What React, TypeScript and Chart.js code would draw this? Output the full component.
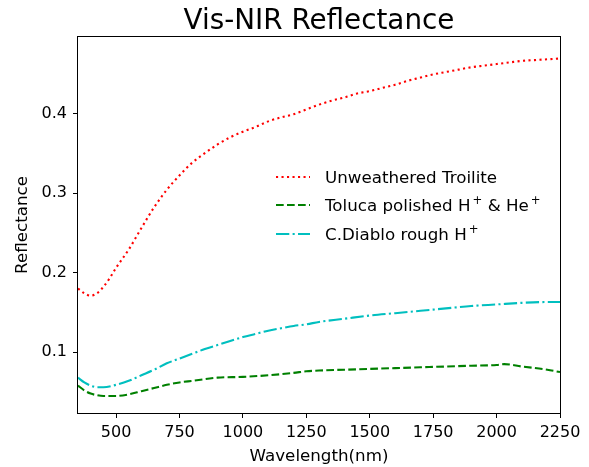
import React, { useEffect, useRef } from "react";
import { Chart, registerables } from "chart.js";

Chart.register(...registerables);

const chartTitle = "Vis-NIR Reflectance";
const xAxisLabel = "Wavelength(nm)";
const yAxisLabel = "Reflectance";
const xTicks = [500, 750, 1000, 1250, 1500, 1750, 2000, 2250];
const yTicks = [0.1, 0.2, 0.3, 0.4];

const troiliteWl = [350, 375, 400, 425, 450, 475, 500, 550, 600, 650, 700, 750, 800, 850, 900, 950, 1000, 1050, 1100, 1150, 1200, 1250, 1300, 1350, 1400, 1450, 1500, 1550, 1600, 1650, 1700, 1750, 1800, 1850, 1900, 1950, 2000, 2050, 2100, 2150, 2200, 2250];
const troiliteR = [0.180, 0.174, 0.171, 0.174, 0.182, 0.193, 0.206, 0.229, 0.256, 0.282, 0.304, 0.322, 0.338, 0.350, 0.361, 0.370, 0.377, 0.383, 0.390, 0.395, 0.399, 0.405, 0.411, 0.416, 0.420, 0.425, 0.428, 0.432, 0.436, 0.441, 0.445, 0.449, 0.452, 0.455, 0.458, 0.460, 0.462, 0.464, 0.466, 0.467, 0.468, 0.469];

const tolucaWl = [350, 375, 400, 425, 450, 500, 550, 600, 650, 700, 750, 800, 900, 1000, 1100, 1200, 1250, 1300, 1400, 1500, 1600, 1700, 1800, 1900, 2000, 2030, 2100, 2200, 2250];
const tolucaR = [0.058, 0.052, 0.048, 0.046, 0.045, 0.045, 0.047, 0.051, 0.055, 0.059, 0.062, 0.064, 0.068, 0.069, 0.071, 0.074, 0.076, 0.077, 0.078, 0.079, 0.080, 0.081, 0.082, 0.083, 0.084, 0.085, 0.082, 0.078, 0.075];

const diabloWl = [350, 375, 400, 425, 450, 500, 550, 600, 650, 700, 750, 800, 850, 900, 950, 1000, 1050, 1100, 1150, 1200, 1250, 1300, 1400, 1500, 1600, 1700, 1800, 1900, 2000, 2100, 2200, 2250];
const diabloR = [0.068, 0.062, 0.058, 0.056, 0.056, 0.059, 0.064, 0.071, 0.078, 0.086, 0.092, 0.098, 0.104, 0.109, 0.114, 0.119, 0.123, 0.127, 0.130, 0.133, 0.135, 0.138, 0.142, 0.146, 0.149, 0.152, 0.155, 0.158, 0.160, 0.162, 0.163, 0.163];

type Part = { t: string; sup?: boolean };
const seriesLabels: Part[][] = [
  [{ t: "Unweathered Troilite" }],
  [{ t: "Toluca polished H" }, { t: "+", sup: true }, { t: " & He" }, { t: "+", sup: true }],
  [{ t: "C.Diablo rough H" }, { t: "+", sup: true }],
];
const seriesColors = ["#ff0000", "#008000", "#00bfbf"];
const seriesDash = [
  [2.1, 3.4],
  [7.7, 3.3],
  [13.3, 3.3, 2.1, 3.3],
];

const FONT = "'DejaVu Sans', sans-serif";

const decorPlugin = {
  id: "decor",
  afterDatasetsDraw(chart: any) {
    const { ctx, chartArea } = chart;
    const { left, top, right, bottom } = chartArea;
    ctx.save();
    // frame
    ctx.strokeStyle = "#000";
    ctx.lineWidth = 1;
    ctx.setLineDash([]);
    ctx.strokeRect(Math.round(left) - 0.5, Math.round(top) - 0.5, Math.round(right - left) + 1, Math.round(bottom - top) + 1);
    // title
    ctx.fillStyle = "#000";
    ctx.font = `27.8px ${FONT}`;
    ctx.textAlign = "center";
    ctx.textBaseline = "alphabetic";
    ctx.fillText(chartTitle, (left + right) / 2, 29);
    // legend
    const lx0 = 276, lx1 = 310, tx = 325;
    const rowY = [177, 205, 234];
    ctx.textAlign = "left";
    seriesLabels.forEach((parts, i) => {
      const y = rowY[i];
      ctx.strokeStyle = seriesColors[i];
      ctx.lineWidth = 2.1;
      ctx.setLineDash(seriesDash[i]);
      ctx.beginPath();
      ctx.moveTo(lx0, y);
      ctx.lineTo(lx1, y);
      ctx.stroke();
      ctx.setLineDash([]);
      ctx.fillStyle = "#000";
      let x = tx;
      parts.forEach((p) => {
        if (p.sup) {
          ctx.font = `11.7px ${FONT}`;
          ctx.textBaseline = "alphabetic";
          x += 2;
          ctx.fillText(p.t, x, y + 6 - 7);
          x += ctx.measureText(p.t).width;
        } else {
          ctx.font = `16.7px ${FONT}`;
          ctx.textBaseline = "alphabetic";
          ctx.fillText(p.t, x, y + 6);
          x += ctx.measureText(p.t).width;
        }
      });
    });
    ctx.restore();
  },
};

export default function App() {
  const ref = useRef<HTMLCanvasElement | null>(null);
  useEffect(() => {
    if (!ref.current) return;
    const mk = (wl: number[], r: number[]) => wl.map((x, i) => ({ x, y: r[i] }));
    const datasets = [
      mk(troiliteWl, troiliteR),
      mk(tolucaWl, tolucaR),
      mk(diabloWl, diabloR),
    ].map((data, i) => ({
      label: seriesLabels[i].map((p) => p.t).join(""),
      data,
      borderColor: seriesColors[i],
      backgroundColor: seriesColors[i],
      borderWidth: 2.1,
      borderDash: seriesDash[i],
      pointRadius: 0,
      fill: false,
      cubicInterpolationMode: "monotone" as const,
    }));
    const chart = new Chart(ref.current, {
      type: "line",
      data: { datasets },
      plugins: [decorPlugin],
      options: {
        animation: false,
        responsive: true,
        maintainAspectRatio: false,
        layout: { padding: { top: 37, left: 0, right: 29, bottom: 0 } },
        plugins: { legend: { display: false }, tooltip: { enabled: false }, title: { display: false } },
        scales: {
          x: {
            type: "linear",
            min: 350,
            max: 2250,
            afterBuildTicks: (s: any) => { s.ticks = xTicks.map((v) => ({ value: v })); },
            afterFit: (s: any) => { s.height = 54; },
            grid: { drawOnChartArea: false, drawTicks: true, tickLength: 5, tickColor: "#000", tickWidth: 1 },
            border: { display: false },
            ticks: { color: "#000", font: { family: FONT, size: 16 }, padding: 5, maxRotation: 0, autoSkip: false, callback: (v: any) => String(v) },
            title: { display: true, text: xAxisLabel, color: "#000", font: { family: FONT, size: 16.7 }, padding: { top: 0, bottom: 0 } },
          },
          y: {
            type: "linear",
            min: 0.0236,
            max: 0.496,
            afterBuildTicks: (s: any) => { s.ticks = yTicks.map((v) => ({ value: v })); },
            afterFit: (s: any) => { s.width = 78; },
            grid: { drawOnChartArea: false, drawTicks: true, tickLength: 5, tickColor: "#000", tickWidth: 1 },
            border: { display: false },
            ticks: { color: "#000", font: { family: FONT, size: 16 }, padding: 6, autoSkip: false, callback: (v: any) => Number(v).toFixed(1) },
            title: { display: true, text: yAxisLabel, color: "#000", font: { family: FONT, size: 16.7 }, padding: { top: 13, bottom: 0 } },
          },
        },
      },
    });
    return () => chart.destroy();
  }, []);
  return (
    <div style={{ position: "absolute", left: 0, top: 0, width: 589, height: 467, background: "#fff" }}>
      <canvas ref={ref} />
    </div>
  );
}
